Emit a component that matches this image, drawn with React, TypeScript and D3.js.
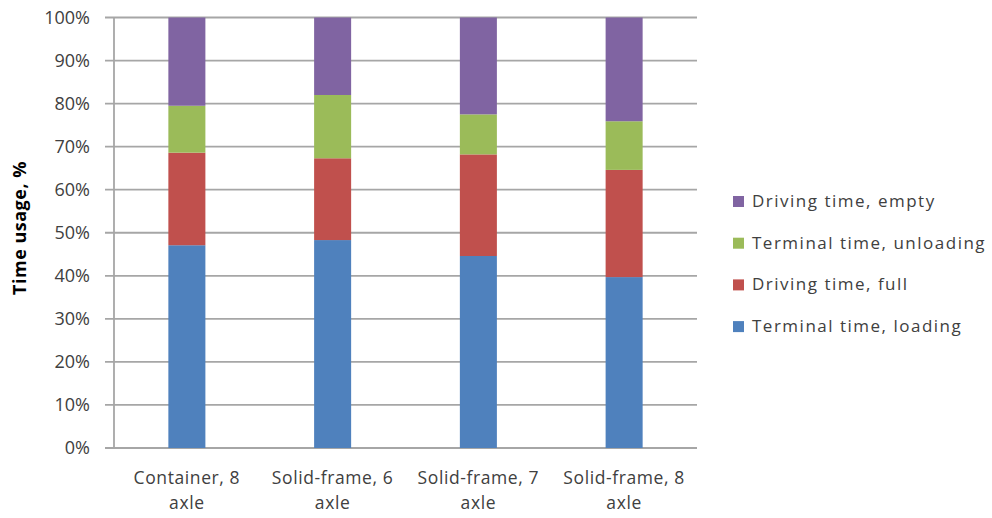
import React from "react";
import * as d3 from "d3";

const categories = ["Container, 8|axle", "Solid-frame, 6|axle", "Solid-frame, 7|axle", "Solid-frame, 8|axle"];
const seriesNames = ["Terminal time, loading", "Driving time, full", "Terminal time, unloading", "Driving time, empty"];
const loading = [47.1, 48.3, 44.6, 39.7];
const drivingFull = [21.5, 19.0, 23.6, 24.9];
const unloading = [10.9, 14.7, 9.3, 11.3];
const drivingEmpty = [20.5, 18.0, 22.5, 24.1];
const colors = ["#4F81BD", "#C0504D", "#9BBB59", "#8064A2"];
const yTicks = [0, 10, 20, 30, 40, 50, 60, 70, 80, 90, 100];

export default function App() {
  const W = 992, H = 518;
  const left = 114, right = 697, top = 17.5, bottom = 448;
  const x = d3.scaleBand().domain(categories).range([left, right]).paddingInner(0.746).paddingOuter(0.373);
  const y = d3.scaleLinear().domain([0, 100]).range([bottom, top]);
  const seriesData = [loading, drivingFull, unloading, drivingEmpty];
  const rows = categories.map((c, i) => {
    const o: any = { cat: c };
    seriesNames.forEach((s, j) => (o[s] = seriesData[j][i]));
    return o;
  });
  const stack = d3.stack().keys(seriesNames)(rows as any);
  const font = "'Open Sans', 'Noto Sans', sans-serif";
  const legendOrder = [3, 2, 1, 0];
  return (
    <svg width={W} height={H} style={{ position: "absolute", left: 0, top: 0 }}>
      <rect width={W} height={H} fill="#fff" />
      {yTicks.map((t) => (
        <g key={t}>
          <line x1={105} x2={right} y1={y(t)} y2={y(t)} stroke="#a6a6a6" strokeWidth={1.8} />
          <text x={90} y={y(t)} dy="0.36em" textAnchor="end" fontFamily={font} fontSize={18} fill="#404040">
            {t}%
          </text>
        </g>
      ))}
      <line x1={left} x2={left} y1={top} y2={bottom} stroke="#a6a6a6" strokeWidth={1.8} />
      {stack.map((layer, j) => (
        <g key={j} fill={colors[j]}>
          {layer.map((d: any, i) => (
            <rect key={i} x={x(categories[i])} width={x.bandwidth()} y={y(d[1])} height={y(d[0]) - y(d[1])} />
          ))}
        </g>
      ))}
      {categories.map((c) => {
        const [l1, l2] = c.split("|");
        const cx = (x(c) as number) + x.bandwidth() / 2;
        return (
          <text key={c} textAnchor="middle" fontFamily={font} fontSize={17.5} fill="#404040" letterSpacing={0.6}>
            <tspan x={cx} y={484}>{l1}</tspan>
            <tspan x={cx} y={509}>{l2}</tspan>
          </text>
        );
      })}
      <text
        transform={`translate(26,228) rotate(-90)`}
        textAnchor="middle"
        fontFamily={font}
        fontWeight="bold"
        fontSize={18}
        fill="#000"
        letterSpacing={0.5}
      >
        Time usage, %
      </text>
      {legendOrder.map((j, k) => {
        const ly = 201 + k * 41.7;
        return (
          <g key={j}>
            <rect x={733} y={ly - 5} width={11} height={11} fill={colors[j]} />
            <text x={752} y={ly} dy="0.35em" fontFamily={font} fontSize={17} fill="#404040" letterSpacing={1.5}>
              {seriesNames[j]}
            </text>
          </g>
        );
      })}
    </svg>
  );
}
